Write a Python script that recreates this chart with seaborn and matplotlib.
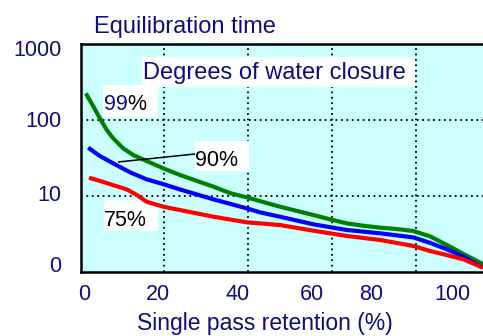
import numpy as np
import pandas as pd
import matplotlib
matplotlib.use("Agg")
import matplotlib.pyplot as plt
from matplotlib.patches import Rectangle
import seaborn as sns

# Single pass retention (%) and equilibration time for each degree of water closure
x_99 = [1.2, 3.1, 4.7, 6.4, 8.0, 10.5, 13.0, 16.3, 20.5, 24.6, 32.9, 37.1, 41.2,
        49.5, 57.8, 61.9, 66.1, 70.2, 74.4, 78.5, 82.7, 86.8, 91.0, 95.1, 100.0]
t_99 = [224, 150, 105, 73.9, 57.4, 42.4, 34.6, 28.9, 23.1, 18.9, 13.3, 10.9, 9.6,
        7.23, 5.62, 4.94, 4.37, 4.06, 3.83, 3.68, 3.46, 2.95, 2.27, 1.73, 1.27]

x_90 = [1.8, 4.7, 8.0, 12.2, 16.3, 20.5, 24.6, 32.9, 41.2, 44.5,
        49.5, 57.8, 66.1, 74.4, 82.7, 86.8, 91.0, 95.1, 100.0]
t_90 = [43.2, 33.6, 26.9, 20.5, 16.6, 14.3, 12.2, 9.05, 6.89, 6.1,
        5.34, 4.24, 3.57, 3.23, 2.85, 2.42, 1.99, 1.59, 1.14]

x_75 = [2.0, 4.7, 8.0, 11.4, 13.9, 16.3, 20.5, 24.6, 32.9, 41.2,
        49.5, 57.8, 66.1, 74.4, 82.7, 86.8, 91.0, 95.1, 100.0]
t_75 = [17.4, 15.8, 13.9, 12.2, 10.3, 8.42, 7.23, 6.54, 5.34, 4.51,
        4.15, 3.50, 2.98, 2.64, 2.20, 1.89, 1.67, 1.47, 1.14]

closures = ["99%", "90%", "75%"]
colors = ["#008000", "#0000FF", "#FF0000"]

x_tick_pos = [0.8, 19.1, 39.0, 57.5, 72.1, 92.3]
x_tick_labels = ["0", "20", "40", "60", "80", "100"]
x_grid = [20.6, 41.5, 62.4, 83.3]
y_tick_pos = [1.27, 10.9, 103, 886]
y_tick_labels = ["0", "10", "100", "1000"]
y_grid = [10, 100]

NAVY = "#0D0D80"

df = pd.concat([
    pd.DataFrame({"retention": x_99, "time": t_99, "closure": "99%"}),
    pd.DataFrame({"retention": x_90, "time": t_90, "closure": "90%"}),
    pd.DataFrame({"retention": x_75, "time": t_75, "closure": "75%"}),
], ignore_index=True)

sns.set_theme(style="white")
plt.rcParams["font.family"] = ["Liberation Sans", "DejaVu Sans"]
plt.rcParams["lines.solid_joinstyle"] = "round"
plt.rcParams["lines.solid_capstyle"] = "butt"

fig = plt.figure(figsize=(4.83, 3.36), dpi=100)
ax = fig.add_axes([81 / 483, 64 / 336, 402 / 483, 228 / 336])
ax.set_facecolor("#CCFFFF")

ax.set_yscale("log")
ax.set_xlim(0, 100)
ax.set_ylim(1, 1000)

# dotted grid
for gx in x_grid:
    ax.axvline(gx, color="black", lw=1.3, ls=(0, (1, 2)), zorder=1)
for gy in y_grid:
    ax.axhline(gy, color="black", lw=1.3, ls=(0, (1, 2)), zorder=1)

sns.lineplot(data=df, x="retention", y="time", hue="closure",
             hue_order=closures, palette=colors, estimator=None, sort=False,
             linewidth=3.0, legend=False, ax=ax, zorder=3)

ax.set_xticks(x_tick_pos)
ax.set_xticklabels(x_tick_labels)
ax.set_yticks(y_tick_pos)
ax.set_yticklabels(y_tick_labels)
ax.minorticks_off()
ax.tick_params(axis="x", length=0, pad=9, labelsize=15.5, labelcolor=NAVY)
ax.tick_params(axis="y", length=0, pad=14, labelsize=15.5, labelcolor=NAVY)

for side in ["left", "bottom", "top"]:
    ax.spines[side].set_visible(True)
    ax.spines[side].set_color("black")
    ax.spines[side].set_linewidth(1.8)
ax.spines["right"].set_visible(False)

ax.set_xlabel("Single pass retention (%)", fontsize=16.5, color=NAVY)
ax.xaxis.label.set_va("center")
ax.xaxis.set_label_coords(0.458, -0.225)
ax.set_ylabel("")
ax.set_title("Equilibration time", loc="left", x=0.032, pad=8,
             fontsize=17, color=NAVY)


def fx(px):
    return (px - 81) / 402


def fy(py):
    return (272 - py) / 228


def white_box(x0, x1, y0, y1):
    ax.add_patch(Rectangle((fx(x0), fy(y1)), fx(x1) - fx(x0), fy(y0) - fy(y1),
                           transform=ax.transAxes, facecolor="white",
                           edgecolor="none", zorder=2))


white_box(142, 415, 57, 87)
ax.text(fx(143), fy(73), "Degrees of water closure", transform=ax.transAxes,
        ha="left", va="center", fontsize=17, color=NAVY, zorder=5)

white_box(103, 158, 85, 117)
t99 = ax.text(fx(104), fy(105), "99", transform=ax.transAxes, ha="left",
              va="center", fontsize=15.5, color=NAVY, zorder=5)
ax.annotate("%", xy=(1, 0), xycoords=t99, ha="left", va="bottom",
            fontsize=15.5, color="black", zorder=5)

white_box(195, 249, 141, 171)
ax.text(fx(195), fy(161), "90%", transform=ax.transAxes, ha="left",
        va="center", fontsize=15.5, color="black", zorder=5)
ax.plot([fx(118), fx(195)], [fy(162), fy(154)], transform=ax.transAxes,
        color="black", lw=1.1, zorder=5)

white_box(104, 158, 200, 231)
ax.text(fx(104), fy(220.5), "75%", transform=ax.transAxes, ha="left",
        va="center", fontsize=15.5, color="black", zorder=5)

fig.savefig("out.png", dpi=100)
